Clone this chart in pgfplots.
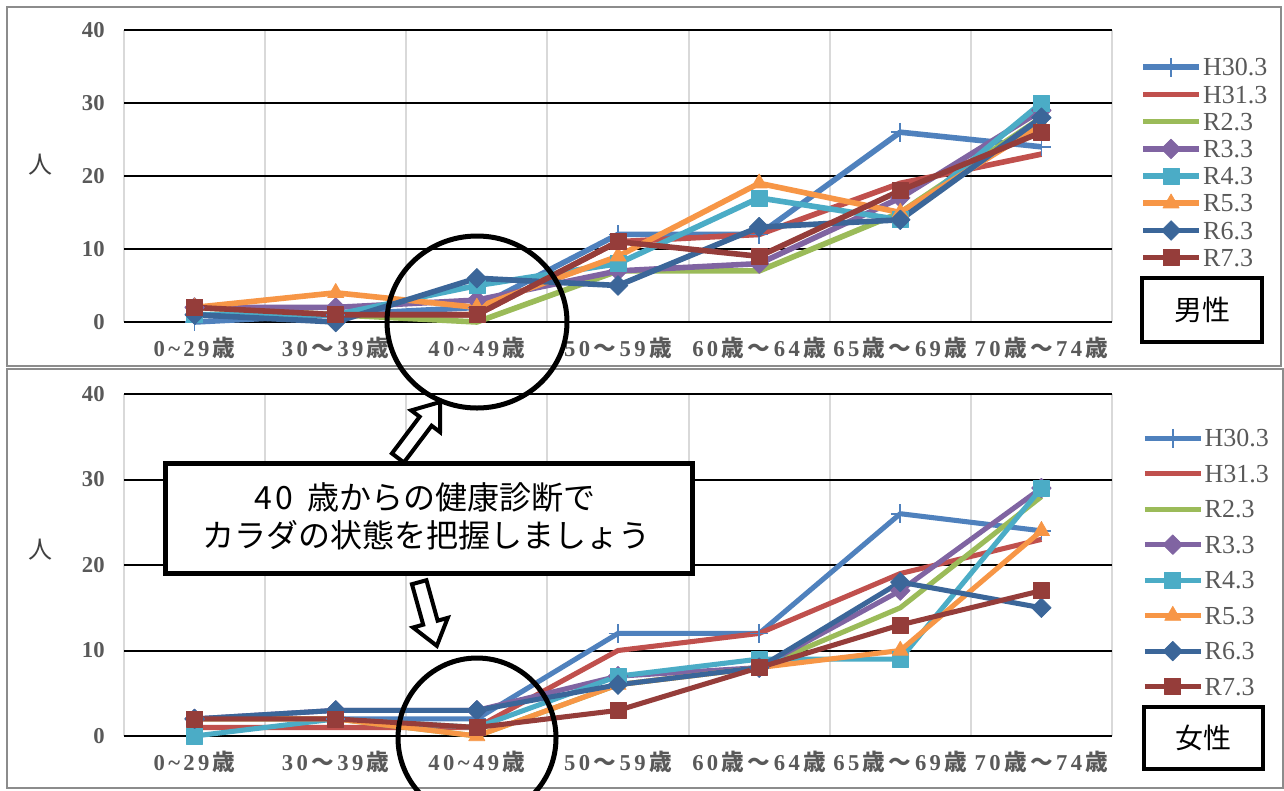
\documentclass[border=0pt]{standalone}
\usepackage{pgfplots}
\pgfplotsset{compat=1.18}
\usepackage{pgfplotstable}
\usepackage{fontspec}
\setmainfont{Liberation Serif}
\newfontfamily\jp{Noto Sans CJK JP}

\definecolor{cA}{HTML}{4F81BD}
\definecolor{cB}{HTML}{C0504D}
\definecolor{cC}{HTML}{9BBB59}
\definecolor{cD}{HTML}{8064A2}
\definecolor{cE}{HTML}{4BACC6}
\definecolor{cF}{HTML}{F79646}
\definecolor{cG}{HTML}{3B6699}
\definecolor{cH}{HTML}{953D3A}
\definecolor{tickgray}{HTML}{595959}

% rows = age groups, columns = survey year
\pgfplotstableread{
x H30 H31 R2 R3 R4 R5 R6 R7
0 0 2 2 2 1 2 1 2
1 1 1 1 2 1 4 0 1
2 2 1 0 3 5 2 6 1
3 12 11 7 7 8 9 5 11
4 12 12 7 8 17 19 13 9
5 26 19 15 17 14 15 14 18
6 24 23 28 29 30 27 28 26
}\male

\pgfplotstableread{
x H30 H31 R2 R3 R4 R5 R6 R7
0 2 1 2 2 0 2 2 2
1 2 1 2 3 2 2 3 2
2 2 1 0 3 1 0 3 1
3 12 10 6 7 7 6 6 3
4 12 12 8 8 9 8 8 8
5 26 19 15 17 9 10 18 13
6 24 23 28 29 29 24 15 17
}\female

\newcommand\ls{\hspace{0.15em}}
\def\lw{4.2pt}

\pgfplotsset{
  sA/.style={cA, line width=\lw, mark=+, mark size=7pt, mark options={solid, line width=1.2pt}},
  sB/.style={cB, line width=\lw, no markers},
  sC/.style={cC, line width=\lw, no markers},
  sD/.style={cD, line width=\lw, mark=square*, mark size=5.2pt, mark options={solid, rotate=45, line width=0.5pt, fill=cD}},
  sE/.style={cE, line width=\lw, mark=square*, mark size=6pt, mark options={solid, line width=0.5pt, fill=cE}},
  sF/.style={cF, line width=\lw, mark=triangle*, mark size=7pt, mark options={solid, line width=0.5pt, fill=cF}},
  sG/.style={cG, line width=\lw, mark=square*, mark size=5.2pt, mark options={solid, rotate=45, line width=0.5pt, fill=cG}},
  sH/.style={cH, line width=\lw, mark=square*, mark size=6pt, mark options={solid, line width=0.5pt, fill=cH}},
  base/.style={
    scale only axis, width=741pt,
    xmin=-0.5, xmax=6.5, ymin=0, ymax=40,
    xtick={0,...,6},
    xticklabels={
      0\ls\textasciitilde\ls2\ls9\ls{\jp 歳},
      3\ls0\ls{\jp ～}\ls3\ls9\ls{\jp 歳},
      4\ls0\ls\textasciitilde\ls4\ls9\ls{\jp 歳},
      5\ls0\ls{\jp ～}\ls5\ls9\ls{\jp 歳},
      6\ls0\ls{\jp 歳}\ls{\jp ～}\ls6\ls4\ls{\jp 歳},
      6\ls5\ls{\jp 歳}\ls{\jp ～}\ls6\ls9\ls{\jp 歳},
      7\ls0\ls{\jp 歳}\ls{\jp ～}\ls7\ls4\ls{\jp 歳}},
    minor xtick={-0.5,0.5,...,6.5},
    xminorgrids, minor x grid style={black!15, line width=1.5pt},
    ytick={10,20,30,40},
    ymajorgrids, major y grid style={black, line width=1.5pt},
    extra y ticks={0},
    extra y tick style={ymajorgrids=true, major grid style={black!15, line width=1.5pt}},
    axis line style={draw=none},
    major tick length=0pt, minor tick length=0pt,
    /pgf/number format/assume math mode=true,
    tick label style={font=\bfseries\fontsize{17}{17}\selectfont, text=tickgray},
    yticklabel style={xshift=-11pt},
    xticklabel style={yshift=-8pt},
    ylabel={\jp 人},
    ylabel style={rotate=-90, anchor=center, font=\fontsize{18}{18}\selectfont, text=black!75},
    clip=false,
    every axis plot/.append style={line join=round},
    legend cell align=left,
    legend image code/.code={\draw[mark repeat=2, mark phase=2, #1]
      plot coordinates {(0pt,0pt) (21pt,0pt) (42pt,0pt)};},
    legend style={at={(axis description cs:1,1)}, anchor=north west,
      draw=none, fill=none, inner sep=0pt, column sep=1pt,
      font=\fontsize{19.5}{19.5}\selectfont,
      nodes={inner sep=0pt, text height=14.5pt, text depth=1.5pt, text=tickgray}},
  },
}

\begin{document}
\begin{tikzpicture}[x=0.75pt, y=-0.75pt]
\fill[white] (0,0) rectangle (1284,790);
\path[use as bounding box] (0,0) rectangle (1284,790);
\draw[black!45, line width=1.5pt] (7,7) rectangle (1281,366);
\draw[black!45, line width=1.5pt] (7,369) rectangle (1283,788);

% 男性
\def\lw{4.2pt}
\begin{axis}[base, at={(93pt,-241.5pt)}, anchor=south west, height=219pt,
  ylabel style={at={(axis description cs:-0.085,0.54)}},
  legend style={xshift=21pt, yshift=-19.75pt, row sep=4.4pt}]
\addplot[sA] table[x=x, y=H30] {\male};
\addplot[sB] table[x=x, y=H31] {\male};
\addplot[sC] table[x=x, y=R2] {\male};
\addplot[sD] table[x=x, y=R3] {\male};
\addplot[sE] table[x=x, y=R4] {\male};
\addplot[sF] table[x=x, y=R5] {\male};
\addplot[sG] table[x=x, y=R6] {\male};
\addplot[sH] table[x=x, y=R7] {\male};
\legend{H30.3,H31.3,R2.3,R3.3,R4.3,R5.3,R6.3,R7.3}
\end{axis}

% 女性
\def\lw{3.8pt}
\begin{axis}[base, at={(93pt,-552pt)}, anchor=south west, height=256.5pt,
  ylabel style={at={(axis description cs:-0.085,0.544)}},
  legend style={xshift=22.5pt, yshift=-25pt, row sep=10.6pt}]
\addplot[sA] table[x=x, y=H30] {\female};
\addplot[sB] table[x=x, y=H31] {\female};
\addplot[sC] table[x=x, y=R2] {\female};
\addplot[sD] table[x=x, y=R3] {\female};
\addplot[sE] table[x=x, y=R4] {\female};
\addplot[sF] table[x=x, y=R5] {\female};
\addplot[sG] table[x=x, y=R6] {\female};
\addplot[sH] table[x=x, y=R7] {\female};
\legend{H30.3,H31.3,R2.3,R3.3,R4.3,R5.3,R6.3,R7.3}
\end{axis}

% sex labels
\draw[line width=3pt] (1142,278) rectangle (1262,342);
\node at (1202,310) {\jp\fontsize{21}{21}\selectfont 男性};
\draw[line width=3pt] (1144,707) rectangle (1263,769);
\node at (1203,738) {\jp\fontsize{21}{21}\selectfont 女性};

% circles round 40~49
\draw[line width=3.75pt] (477,322) ellipse [x radius=90, y radius=86];
\draw[line width=3.75pt] (477,738) ellipse [x radius=79, y radius=80];

% callout
\draw[line width=3.75pt, fill=white] (165,463) rectangle (692,573);
\node at (425,497) {\jp\fontsize{24}{24}\selectfont 4\hspace{0.08em}0\hspace{0.45em}歳からの健康診断で};
\node at (426,535) {\jp\fontsize{24}{24}\selectfont カラダの状態を把握しましょう};

% block arrows
\draw[line width=3pt, fill=white, line join=miter, shift={(419,430)}, rotate=53]
  (-35,-7.5) -- (11,-7.5) -- (11,-18) -- (35,0) -- (11,18) -- (11,7.5) -- (-35,7.5) -- cycle;
\draw[line width=3pt, fill=white, line join=miter, shift={(428,614)}, rotate=-74.5]
  (-33,-7.5) -- (9,-7.5) -- (9,-18) -- (33,0) -- (9,18) -- (9,7.5) -- (-33,7.5) -- cycle;
\end{tikzpicture}
\end{document}
